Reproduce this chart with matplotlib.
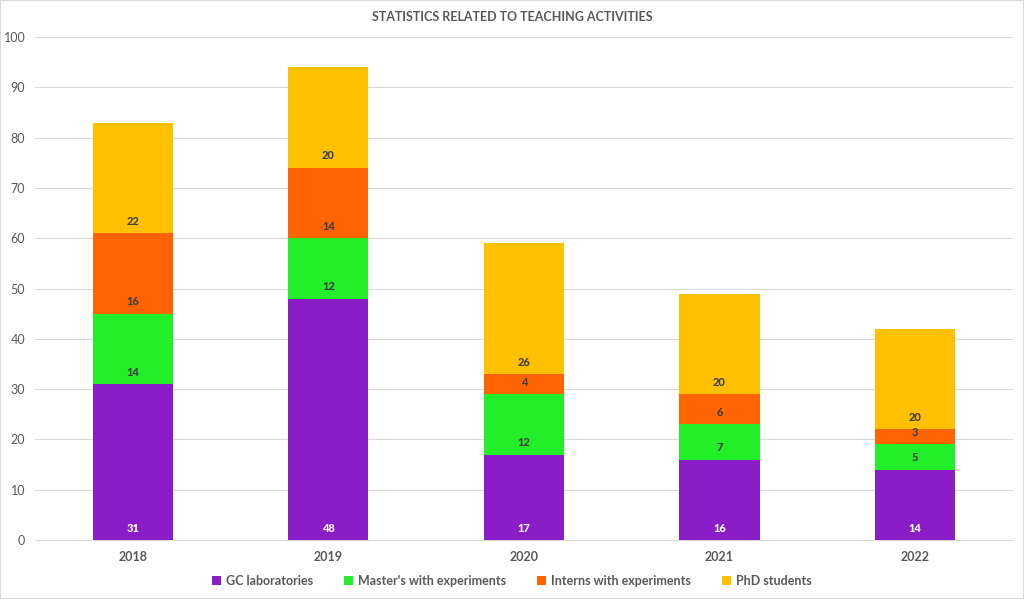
import matplotlib
matplotlib.use("Agg")
import matplotlib.pyplot as plt
from matplotlib.patches import Rectangle

years = ["2018", "2019", "2020", "2021", "2022"]
gc_labs = [31, 48, 17, 16, 14]
masters = [14, 12, 12, 7, 5]
interns = [16, 14, 4, 6, 3]
phd = [22, 20, 26, 20, 20]

series = [
    ("GC laboratories", gc_labs, "#8A1DC8", "white"),
    ("Master's with experiments", masters, "#22EE2A", "#404040"),
    ("Interns with experiments", interns, "#FF6400", "#404040"),
    ("PhD students", phd, "#FFC000", "#404040"),
]

plt.rcParams['font.family'] = ['Lato', 'DejaVu Sans']

fig = plt.figure(figsize=(10.24, 5.99), dpi=100)
ax = fig.add_axes([0.0342, 0.0985, 0.9548, 0.8395])

x = list(range(len(years)))
bottom = [0] * len(years)
for name, vals, color, tcolor in series:
    ax.bar(x, vals, width=0.41, bottom=bottom, color=color, label=name, zorder=3)
    for xi, b, v in zip(x, bottom, vals):
        ax.annotate(str(v), (xi, b), xytext=(0, 8.6), textcoords="offset points",
                    ha="center", va="center", fontsize=8, fontweight="black",
                    color=tcolor, zorder=4)
    bottom = [b + v for b, v in zip(bottom, vals)]

ax.set_xlim(-0.5, len(years) - 0.5)
ax.set_ylim(0, 100)
ax.set_yticks(range(0, 101, 10))
ax.set_xticks(x)
ax.set_xticklabels(years, fontweight="bold")
ax.tick_params(axis="both", length=0, colors="#595959", labelsize=9)
ax.tick_params(axis="y", pad=7)
ax.tick_params(axis="x", pad=8)
ax.grid(axis="y", color="#D9D9D9", linewidth=0.8, zorder=0)
for s in ["top", "right", "left"]:
    ax.spines[s].set_visible(False)
ax.spines["bottom"].set_color("#D9D9D9")

fig.text(0.5, 0.972, "STATISTICS RELATED TO TEACHING ACTIVITIES", ha="center", va="center",
         fontsize=9, color="#595959", fontweight="bold")

leg = fig.legend(loc="center", bbox_to_anchor=(0.5, 0.03), ncol=4, frameon=False,
                 fontsize=9, handlelength=0.7, handleheight=0.7, columnspacing=2.5,
                 handletextpad=0.4)
for t in leg.get_texts():
    t.set_color("#595959")
    t.set_fontweight("bold")

fig.patches.append(Rectangle((0, 0), 1, 1, transform=fig.transFigure, fill=False,
                             edgecolor="#D9D9D9", linewidth=1.5))

fig.savefig("out.png", dpi=100)
